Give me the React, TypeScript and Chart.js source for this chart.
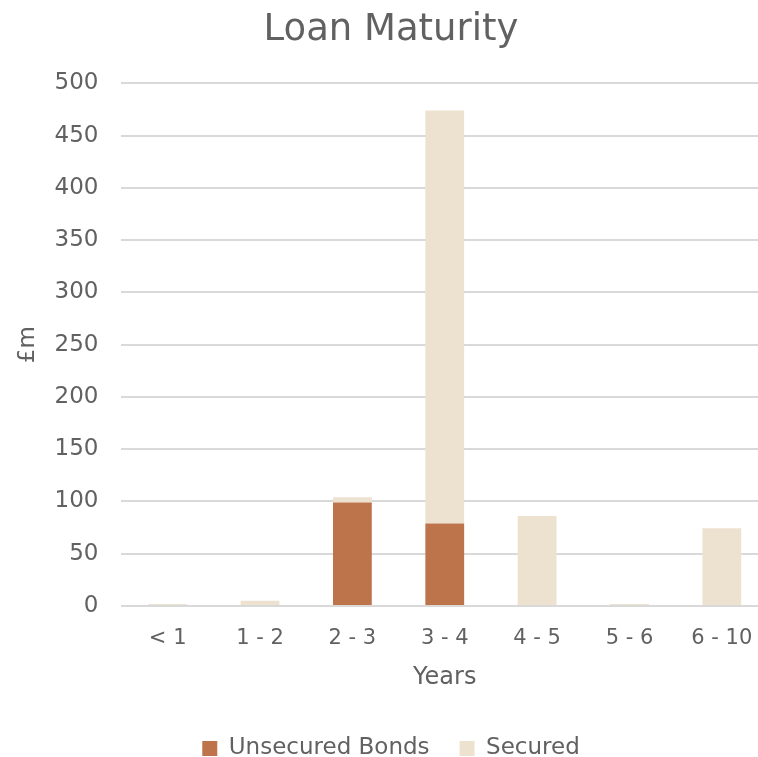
import React, { useEffect, useRef } from "react";
import { Chart, registerables } from "chart.js";

Chart.register(...registerables);

const categories = ["< 1", "1 - 2", "2 - 3", "3 - 4", "4 - 5", "5 - 6", "6 - 10"];
const unsecuredBonds = [0, 0, 99, 79, 0, 0, 0];
const secured = [2, 5, 5, 395, 86, 2, 74.5];
const yTicks = [0, 50, 100, 150, 200, 250, 300, 350, 400, 450, 500];

const TEXT = "#616161";
const FONT = "'DejaVu Sans', sans-serif";

export default function App() {
  const ref = useRef<HTMLCanvasElement | null>(null);
  useEffect(() => {
    document.body.style.margin = "0";
    const ctx = ref.current!;
    const chart = new Chart(ctx, {
      type: "bar",
      data: {
        labels: categories,
        datasets: [
          {
            label: "Unsecured Bonds",
            data: unsecuredBonds,
            backgroundColor: "#BD744A",
            borderWidth: 0,
            barPercentage: 0.84,
            categoryPercentage: 0.5,
          },
          {
            label: "Secured",
            data: secured,
            backgroundColor: "#EDE2D0",
            borderWidth: 0,
            barPercentage: 0.84,
            categoryPercentage: 0.5,
          },
        ],
      },
      options: {
        animation: false,
        responsive: false,
        maintainAspectRatio: false,
        layout: { padding: { left: 14, right: 2, top: 6, bottom: -13 } },
        plugins: {
          title: {
            display: true,
            text: "Loan Maturity",
            color: TEXT,
            font: { family: FONT, size: 37, weight: "normal" },
            padding: { top: 2, bottom: 31 },
          },
          legend: {
            position: "bottom",
            labels: {
              color: TEXT,
              font: { family: FONT, size: 23 },
              boxWidth: 15,
              boxHeight: 15,
              padding: 30,
            },
          },
          tooltip: { enabled: false },
        },
        scales: {
          x: {
            stacked: true,
            grid: { display: false },
            border: { display: false },
            ticks: { color: TEXT, font: { family: FONT, size: 21 }, padding: 12 },
            title: {
              display: true,
              text: "Years",
              color: TEXT,
              font: { family: FONT, size: 24 },
              padding: { top: 0, bottom: 15 },
            },
          },
          y: {
            stacked: true,
            min: 0,
            max: 500,
            afterBuildTicks: (axis: any) => {
              axis.ticks = yTicks.map((v) => ({ value: v }));
            },
            grid: { color: "#D9D9D9", lineWidth: 2, drawTicks: false },
            border: { display: false },
            ticks: { color: TEXT, font: { family: FONT, size: 23 }, padding: 23 },
            title: {
              display: true,
              text: "£m",
              color: TEXT,
              font: { family: FONT, size: 23 },
              padding: { top: 0, bottom: -10 },
            },
          },
        },
      },
    });
    return () => chart.destroy();
  }, []);
  return (
    <div style={{ width: 758, height: 757, overflow: "hidden" }}>
      <canvas ref={ref} width={770} height={757} style={{ display: "block" }} />
    </div>
  );
}
